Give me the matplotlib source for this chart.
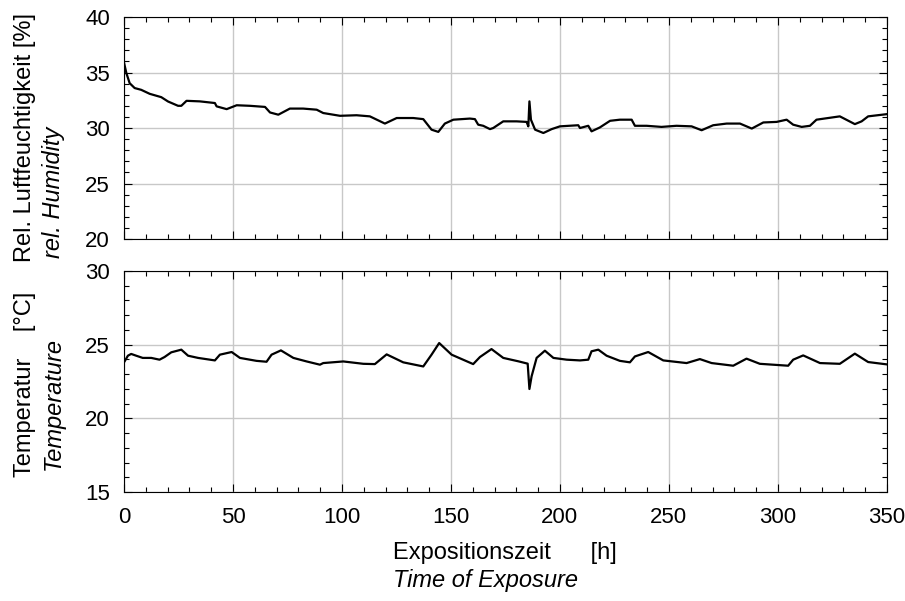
"""Humidity and temperature over time of exposure, two stacked panels."""
import matplotlib.pyplot as plt
from matplotlib.ticker import MultipleLocator

# relative humidity [%] over time [h]
rh_hours = [0.0, 1.1, 2.6, 4.9, 7.9, 11.8, 17.1, 20.2, 24.8, 26.3, 28.7, 34.8,
            41.7, 42.5, 47.1, 51.7, 57.8, 64.7, 67.0, 70.8, 76.1, 82.2, 88.4,
            91.4, 99.1, 106.7, 112.8, 119.7, 125.1, 132.7, 137.3, 141.1, 144.2,
            147.2, 151.1, 158.7, 161.0, 162.5, 164.8, 167.9, 169.4, 174.0,
            180.1, 184.7, 185.5, 186.0, 186.7, 188.6, 192.4, 196.2, 200.0,
            208.4, 209.2, 213.0, 214.5, 218.3, 223.0, 227.5, 232.9, 234.4,
            239.8, 246.6, 253.5, 260.4, 265.0, 270.3, 276.5, 282.6, 288.0,
            293.3, 299.4, 304.0, 307.0, 310.9, 314.7, 317.7, 328.4, 335.3,
            338.4, 341.4, 350.0]
rh_values = [35.9, 34.94, 34.04, 33.6, 33.44, 33.08, 32.78, 32.39, 32.0, 32.0,
             32.45, 32.4, 32.25, 31.95, 31.7, 32.05, 32.0, 31.9, 31.4, 31.2,
             31.75, 31.75, 31.65, 31.35, 31.1, 31.15, 31.05, 30.4, 30.9, 30.9,
             30.8, 29.85, 29.65, 30.4, 30.75, 30.85, 30.8, 30.3, 30.2, 29.9,
             30.0, 30.6, 30.6, 30.55, 30.15, 32.4, 30.75, 29.85, 29.55, 29.9,
             30.15, 30.25, 30.0, 30.2, 29.7, 30.05, 30.65, 30.75, 30.75, 30.2,
             30.2, 30.1, 30.2, 30.15, 29.8, 30.25, 30.4, 30.4, 29.95, 30.5,
             30.55, 30.75, 30.3, 30.1, 30.2, 30.75, 31.05, 30.35, 30.6, 31.05,
             31.25]

# temperature [°C] over time [h]
temp_hours = [0.0, 0.3, 1.8, 3.3, 5.6, 8.6, 12.5, 16.3, 18.6, 21.7, 26.3, 29.4,
              34.0, 41.7, 44.0, 49.4, 53.2, 60.8, 65.4, 67.7, 72.0, 77.7, 83.8,
              89.9, 91.4, 100.6, 109.8, 115.1, 120.5, 128.1, 137.3, 141.1,
              144.6, 150.3, 160.2, 163.3, 168.6, 174.0, 180.9, 185.2, 186.0,
              187.0, 189.3, 193.1, 197.0, 203.1, 209.2, 213.0, 214.5, 217.6,
              221.4, 227.5, 232.1, 234.4, 240.5, 247.4, 258.1, 264.2, 269.6,
              279.5, 285.6, 291.7, 304.7, 307.0, 311.6, 319.3, 328.4, 335.3,
              341.4, 350.0]
temp_values = [23.8, 23.87, 24.25, 24.37, 24.25, 24.1, 24.1, 23.98, 24.16,
               24.48, 24.66, 24.25, 24.1, 23.93, 24.32, 24.5, 24.1, 23.9, 23.84,
               24.32, 24.61, 24.1, 23.86, 23.64, 23.75, 23.86, 23.7, 23.68,
               24.34, 23.8, 23.52, 24.32, 25.11, 24.32, 23.68, 24.16, 24.7,
               24.1, 23.87, 23.71, 21.99, 22.85, 24.1, 24.59, 24.1, 23.98,
               23.93, 23.98, 24.55, 24.66, 24.25, 23.9, 23.8, 24.2, 24.5,
               23.93, 23.75, 24.02, 23.75, 23.57, 24.05, 23.7, 23.57, 23.98,
               24.27, 23.75, 23.7, 24.39, 23.82, 23.66]

plt.rcParams['font.family'] = ['Liberation Sans', 'DejaVu Sans']
plt.rcParams['font.size'] = 16
LABEL_SIZE = 17


def style_axes(ax, ylim, show_xlabels):
    """Shared frame, ticks and grid for both panels."""
    ax.set_xlim(0, 350)
    ax.set_ylim(*ylim)
    ax.xaxis.set_major_locator(MultipleLocator(50))
    ax.xaxis.set_minor_locator(MultipleLocator(10))
    ax.yaxis.set_major_locator(MultipleLocator(5))
    ax.yaxis.set_minor_locator(MultipleLocator(1))
    ax.tick_params(which='both', direction='in', top=True, right=True,
                   labelsize=16, width=0.8)
    ax.tick_params(which='major', length=6)
    ax.tick_params(which='minor', length=3.5)
    ax.tick_params(axis='y', pad=10)
    ax.tick_params(axis='x', pad=11, labelbottom=show_xlabels)
    ax.grid(True, which='major', color='#c8c8c8', linewidth=1.0)
    ax.set_axisbelow(True)
    for spine in ax.spines.values():
        spine.set_linewidth(0.8)


fig = plt.figure(figsize=(9.05, 6.01), dpi=100)
ax_rh = fig.add_axes([0.137, 0.6023, 0.843, 0.3694])
ax_t = fig.add_axes([0.137, 0.1814, 0.843, 0.3677])

ax_rh.plot(rh_hours, rh_values, color='black', linewidth=1.6)
style_axes(ax_rh, (20, 40), False)

ax_t.plot(temp_hours, temp_values, color='black', linewidth=1.6)
style_axes(ax_t, (15, 30), True)

# axis titles, German with English in italics
fig.text(0.028, 0.564, 'Rel. Luftfeuchtigkeit [%]', rotation=90,
         ha='center', va='bottom', fontsize=LABEL_SIZE)
fig.text(0.059, 0.570, 'rel. Humidity', rotation=90, style='italic',
         ha='center', va='bottom', fontsize=LABEL_SIZE)
fig.text(0.028, 0.206, 'Temperatur    [°C]', rotation=90,
         ha='center', va='bottom', fontsize=LABEL_SIZE)
fig.text(0.059, 0.218, 'Temperature', rotation=90, style='italic',
         ha='center', va='bottom', fontsize=LABEL_SIZE)
fig.text(0.434, 0.070, 'Expositionszeit      [h]', ha='left',
         va='baseline', fontsize=LABEL_SIZE)
fig.text(0.434, 0.023, 'Time of Exposure', style='italic', ha='left',
         va='baseline', fontsize=LABEL_SIZE)

fig.savefig('out.png', dpi=100)
